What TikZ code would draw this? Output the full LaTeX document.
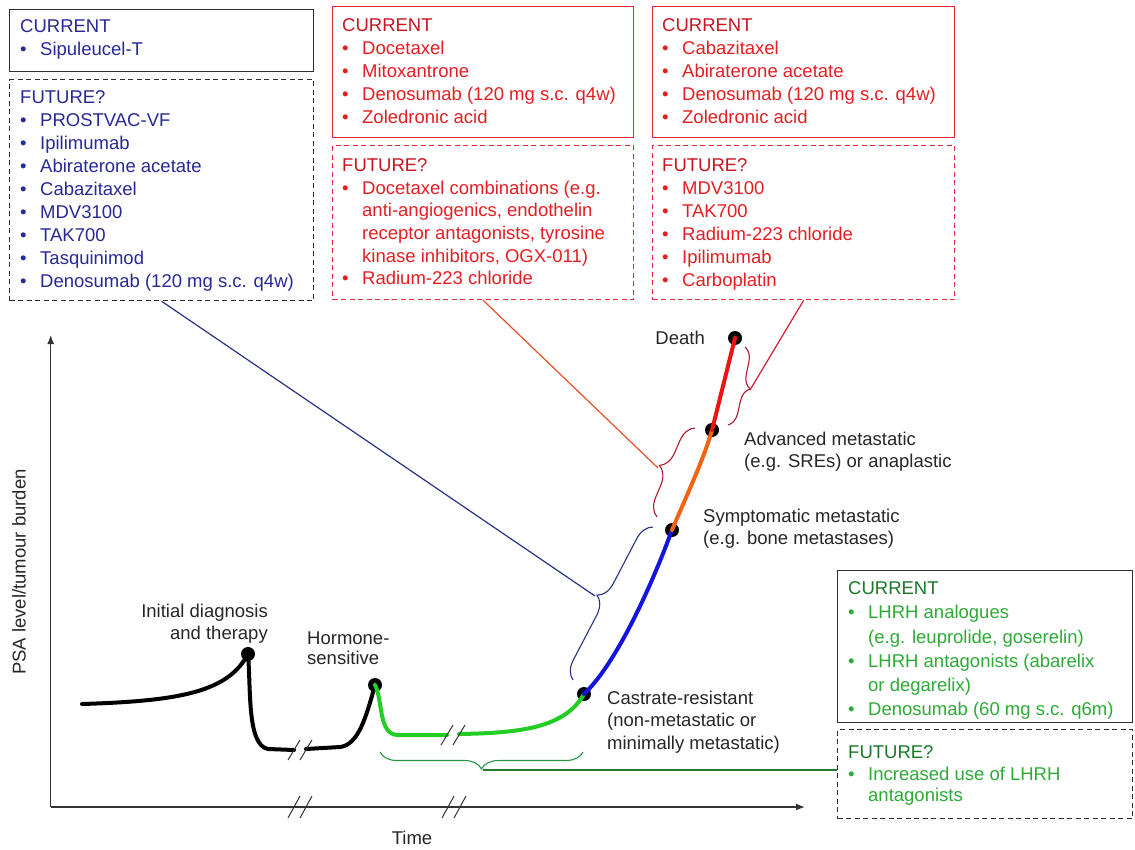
\documentclass[tikz,border=0pt]{standalone}
\usepackage{fontspec}
\setmainfont{Liberation Sans}
\usetikzlibrary{arrows.meta,decorations.pathreplacing,calc}
\definecolor{navyT}{RGB}{40,40,150}
\definecolor{redT}{RGB}{228,30,35}
\definecolor{redH}{RGB}{200,20,30}
\definecolor{greenT}{RGB}{45,170,55}
\definecolor{greenH}{RGB}{25,120,40}
\definecolor{boxgray}{RGB}{45,45,45}
\definecolor{boxred}{RGB}{222,45,55}
\definecolor{cgreen}{RGB}{35,205,35}
\definecolor{cblue}{RGB}{20,20,220}
\definecolor{corange}{RGB}{240,100,20}
\definecolor{cred}{RGB}{235,20,20}
\definecolor{lblue}{RGB}{40,50,130}
\definecolor{lorange}{RGB}{230,80,40}
\definecolor{lred}{RGB}{205,30,50}
\definecolor{lgreen}{RGB}{40,120,50}
\definecolor{brgreen}{RGB}{40,150,70}
\newcommand{\bitem}{\makebox[20pt][l]{\textbullet}}
\newcommand{\hang}{\hspace*{20pt}}
\begin{document}
\begin{tikzpicture}[x=1pt,y=-1pt,
  solidbox/.style={draw, line width=1.3pt, inner sep=0pt, anchor=north west},
  futbox/.style={solidbox, dash pattern=on 5pt off 3.5pt},
  txt/.style={anchor=north west, inner sep=0pt, align=left, font=\fontsize{18.5}{23}\selectfont},
  lbl/.style={inner sep=0pt, font=\fontsize{18.5}{22.5}\selectfont, text=black!85},
  dot/.style={circle, fill=black, inner sep=0pt, minimum size=14pt},
  curve/.style={line width=4pt, line cap=round},
  axis/.style={line width=1.3pt, draw=black!80},
  brk/.style={line width=1pt, draw=black!80},
  br/.style={decorate, line width=1.1pt},
  conn/.style={line width=1.2pt}
]
\useasboundingbox (0,0) rectangle (1135,850);

% ---------- boxes ----------
\node[solidbox, draw=boxgray, minimum width=304pt, minimum height=62pt] (bcur) at (9,9) {};
\node[futbox, draw=boxgray, minimum width=304pt, minimum height=221pt] (bfut) at (9,79) {};
\node[solidbox, draw=boxred, minimum width=301pt, minimum height=131pt] (mcur) at (332,6) {};
\node[futbox, draw=boxred, minimum width=301pt, minimum height=154pt] (mfut) at (332,145) {};
\node[solidbox, draw=boxred, minimum width=302pt, minimum height=131pt] (rcur) at (652,6) {};
\node[futbox, draw=boxred, minimum width=302pt, minimum height=154pt] (rfut) at (652,145) {};
\node[solidbox, draw=boxgray, minimum width=295pt, minimum height=152pt] (gcur) at (837,570) {};
\node[futbox, draw=boxgray, minimum width=295pt, minimum height=89pt] (gfut) at (837,729) {};

% ---------- box texts ----------
\node[txt, text=navyT] (tbcur) at (20,19.5) {CURRENT\\\bitem Sipuleucel-T};
\node[txt, text=navyT] (tbfut) at (20,90.5) {FUTURE?\\\bitem PROSTVAC-VF\\\bitem Ipilimumab\\\bitem Abiraterone acetate\\\bitem Cabazitaxel\\\bitem MDV3100\\\bitem TAK700\\\bitem Tasquinimod\\\bitem Denosumab (120 mg s.c. q4w)};
\node[txt, text=redT] (tmcur) at (342,18.5) {\textcolor{redH}{CURRENT}\\\bitem Docetaxel\\\bitem Mitoxantrone\\\bitem Denosumab (120 mg s.c. q4w)\\\bitem Zoledronic acid};
\node[txt, text=redT, font=\fontsize{18.5}{22.6}\selectfont] (tmfut) at (342,158.5) {\textcolor{redH}{FUTURE?}\\\bitem Docetaxel combinations (e.g.\\\hang anti-angiogenics, endothelin\\\hang receptor antagonists, tyrosine\\\hang kinase inhibitors, OGX-011)\\\bitem Radium-223 chloride};
\node[txt, text=redT] (trcur) at (662,18.5) {\textcolor{redH}{CURRENT}\\\bitem Cabazitaxel\\\bitem Abiraterone acetate\\\bitem Denosumab (120 mg s.c. q4w)\\\bitem Zoledronic acid};
\node[txt, text=redT, font=\fontsize{18.5}{23}\selectfont] (trfut) at (662,158.5) {\textcolor{redH}{FUTURE?}\\\bitem MDV3100\\\bitem TAK700\\\bitem Radium-223 chloride\\\bitem Ipilimumab\\\bitem Carboplatin};
\node[txt, text=greenT, font=\fontsize{18.5}{24.2}\selectfont] (tgcur) at (848,581.5) {\textcolor{greenH}{CURRENT}\\\bitem LHRH analogues\\\hang (e.g. leuprolide, goserelin)\\\bitem LHRH antagonists (abarelix\\\hang or degarelix)\\\bitem Denosumab (60 mg s.c. q6m)};
\node[txt, text=greenT, font=\fontsize{18.5}{21.5}\selectfont] (tgfut) at (848,745.5) {\textcolor{greenH}{FUTURE?}\\\bitem Increased use of LHRH\\\hang antagonists};

% ---------- axes ----------
\coordinate (O) at (50.7,807);
\coordinate (ytop) at (50.7,335);
\coordinate (xend) at (805,807);
\draw[axis, -{Latex[length=9pt,width=7pt]}] (O) -- (ytop);
\draw[axis, -{Latex[length=9pt,width=7pt]}] (O) -- (xend);
\draw[brk] (288,818) -- (300,796);
\draw[brk] (300,818) -- (312,796);
\draw[brk] (442,818) -- (454,796);
\draw[brk] (454,818) -- (466,796);
\node[lbl, rotate=90] (ylab) at (19,572) {PSA level/tumour burden};
\node[lbl] (xlab) at (412,838) {Time};

% ---------- dots ----------
\node[dot] (dinit) at (248,654) {};
\node[dot] (dhorm) at (375,685) {};
\node[dot] (dcast) at (584,694) {};
\node[dot] (dsymp) at (672,530) {};
\node[dot] (dadv) at (712,430) {};
\node[dot] (ddeath) at (735,338) {};

% ---------- curve ----------
\coordinate (cstart) at (82,704);
\coordinate (bk1a) at (294,750);
\coordinate (bk1b) at (306,749);
\coordinate (bk2a) at (447,735);
\coordinate (bk2b) at (459,734);
\draw[curve, black] (cstart) .. controls (180,701) and (228,692) .. (dinit.center)
   .. controls (251,690) and (247,745) .. (268,749) -- (bk1a);
\draw[curve, black] (bk1b) -- (340,747) .. controls (358,745) and (366,718) .. (dhorm.center);
\draw[curve, cgreen] (dhorm.center) .. controls (383,700) and (378,735) .. (398,735) -- (bk2a);
\draw[curve, cgreen] (bk2b) .. controls (520,733) and (565,728) .. (dcast.center);
\draw[curve, cblue] (dcast.center) .. controls (615,665) and (650,590) .. (dsymp.center);
\draw[curve, corange] (dsymp.center) .. controls (690,488) and (704,458) .. (dadv.center);
\draw[curve, cred] (dadv.center) -- (ddeath.center);
\draw[brk] (288,760) -- (300,740);
\draw[brk] (300,760) -- (312,740);
\draw[brk] (441,745) -- (453,725);
\draw[brk] (453,745) -- (465,725);

% ---------- stage labels ----------
\node[lbl, anchor=north east, align=right] (linit) at (268,603.5) {Initial diagnosis\\and therapy};
\node[lbl, anchor=north west, align=left, font=\fontsize{18.5}{20.5}\selectfont] (lhorm) at (307,631.5) {Hormone-\\sensitive};
\node[lbl, anchor=north west, align=left] (lcast) at (607,690.5) {Castrate-resistant\\(non-metastatic or\\minimally metastatic)};
\node[lbl, anchor=north west, align=left] (lsymp) at (703,508.5) {Symptomatic metastatic\\(e.g. bone metastases)};
\node[lbl, anchor=north west, align=left] (ladv) at (744,431.5) {Advanced metastatic\\(e.g. SREs) or anaplastic};
\node[lbl, anchor=north east] (ldeath) at (705,330.5) {Death};

% ---------- braces ----------
\coordinate (gbA) at (583,752);
\coordinate (gbB) at (380,752);
\coordinate (tipG) at (483,770);
\draw[br, brgreen, decoration={brace, amplitude=17pt}] (gbA) -- (gbB);
\coordinate (bbA) at (573,680);
\coordinate (bbB) at (653,527);
\coordinate (tipB) at (595,596);
\draw[br, lblue, decoration={brace, amplitude=18pt}] (bbA) -- (bbB);
\coordinate (obA) at (657,517);
\coordinate (obB) at (695,428);
\coordinate (tipO) at (658,468);
\draw[br, lred!85!black, decoration={brace, amplitude=18pt}] (obA) -- (obB);
\coordinate (rbA) at (745,347);
\coordinate (rbB) at (728,425);
\coordinate (tipR) at (750,390);
\draw[br, lred!85!black, decoration={brace, amplitude=14pt}] (rbA) -- (rbB);

% ---------- connectors ----------
\draw[conn, lblue] (tipB) -- (bfut.south);
\draw[conn, lorange] (tipO) -- (mfut.south);
\draw[conn, lred] (tipR) -- (rfut.south);
\draw[conn, lgreen, line width=2pt] (tipG) -- (tipG -| gfut.west);
\end{tikzpicture}
\end{document}
